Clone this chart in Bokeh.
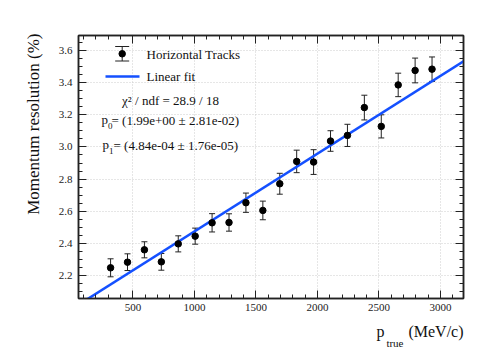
import math
from bokeh.plotting import figure
from bokeh.models import (Range1d, LinearAxis, FixedTicker, Whisker, TeeHead,
                          ColumnDataSource, Label, Title, NumeralTickFormatter,
                          CustomJSTickFormatter)
from bokeh.embed import file_html
from bokeh.resources import INLINE

# ---------------- data ----------------
p_true = [318.75, 456.25, 593.75, 731.25, 868.75, 1006.25, 1143.75, 1281.25,
          1418.75, 1556.25, 1693.75, 1831.25, 1968.75, 2106.25, 2243.75,
          2381.25, 2518.75, 2656.25, 2793.75, 2931.25]
resolution = [2.248, 2.283, 2.360, 2.285, 2.397, 2.445, 2.528, 2.530, 2.653,
              2.605, 2.771, 2.910, 2.906, 3.037, 3.072, 3.245, 3.128, 3.386,
              3.476, 3.484]
res_err = [0.056, 0.052, 0.050, 0.052, 0.050, 0.050, 0.057, 0.054, 0.060,
           0.058, 0.065, 0.070, 0.077, 0.064, 0.069, 0.077, 0.072, 0.073,
           0.077, 0.076]
fit_p0 = 1.99
fit_p1 = 4.84e-4
x_major = [500, 1000, 1500, 2000, 2500, 3000]
x_minor = [100 * i for i in range(1, 32)]
y_major = [2.2, 2.4, 2.6, 2.8, 3.0, 3.2, 3.4, 3.6]
y_minor = [round(2.1 + 0.05 * i, 2) for i in range(0, 32)]
legend_labels = ["Horizontal Tracks", "Linear fit"]
chi2_text = "χ² / ndf = 28.9 / 18"
p0_text = "= (1.99e+00 ± 2.81e-02)"
p1_text = "= (4.84e-04 ± 1.76e-05)"
y_title = "Momentum resolution (%)"
x_title_main = "p\u00a0\u00a0\u00a0\u00a0\u00a0\u00a0(MeV/c)"
x_title_sub = "true"

X0, X1 = 58.0, 3187.0
Y0, Y1 = 2.057, 3.6935

W, H = 488, 351
FL, FR, FT, FB = 78, 463, 35, 298   # frame edges in figure pixels


def px(ix, iy):
    """picture pixel -> data coordinates"""
    x = X0 + (ix - FL) / (FR - FL) * (X1 - X0)
    y = Y1 - (iy - FT) / (FB - FT) * (Y1 - Y0)
    return x, y


SERIF = "Liberation Serif"
INK = "#222222"

p = figure(width=W, height=H, output_backend="svg", toolbar_location=None,
           x_range=Range1d(X0, X1), y_range=Range1d(Y0, Y1),
           min_border_left=FL, min_border_right=W - FR,
           min_border_top=FT, min_border_bottom=H - FB,
           background_fill_color="white", border_fill_color="white")
p.outline_line_color = INK
p.outline_line_width = 1.5

xt = FixedTicker(ticks=x_major, minor_ticks=x_minor)
yt = FixedTicker(ticks=y_major, minor_ticks=y_minor)


def style_axis(ax, show_labels, standoff):
    ax.axis_line_color = INK
    ax.axis_line_width = 1.5
    ax.major_tick_line_color = INK
    ax.minor_tick_line_color = INK
    ax.major_tick_in = 8
    ax.major_tick_out = 0
    ax.minor_tick_in = 4
    ax.minor_tick_out = 0
    ax.axis_label = None
    ax.major_label_text_font = SERIF
    ax.major_label_text_color = INK
    ax.major_label_text_font_size = "11px"
    ax.major_label_standoff = standoff
    if not show_labels:
        ax.formatter = CustomJSTickFormatter(code="return ''")


p.xaxis.ticker = xt
p.yaxis.ticker = yt
style_axis(p.xaxis[0], True, 5)
style_axis(p.yaxis[0], True, 6)
p.yaxis[0].formatter = NumeralTickFormatter(format="0.0")
top_ax = LinearAxis(ticker=xt)
right_ax = LinearAxis(ticker=yt)
style_axis(top_ax, False, 0)
style_axis(right_ax, False, 0)
p.add_layout(top_ax, "above")
p.add_layout(right_ax, "right")

for g in (p.xgrid[0], p.ygrid[0]):
    g.grid_line_color = "#cccccc"
    g.grid_line_dash = "1 2"
    g.grid_line_width = 1
p.xgrid[0].ticker = FixedTicker(ticks=x_major)
p.ygrid[0].ticker = FixedTicker(ticks=y_major)

# ---------------- axis titles ----------------
p.add_layout(Title(text=y_title, align="right", offset=-2, standoff=25,
                   text_font=SERIF, text_font_size="17px",
                   text_font_style="normal", text_color="#111111"), "left")
p.add_layout(Title(text=x_title_main, align="right", offset=0, standoff=19,
                   vertical_align="top", text_font=SERIF,
                   text_font_size="16px", text_font_style="normal",
                   text_color="#111111"), "below")
p.add_layout(Title(text=x_title_sub, align="right", offset=60, standoff=-30,
                   vertical_align="top", text_font=SERIF,
                   text_font_size="11px", text_font_style="normal",
                   text_color="#111111"), "below")

# ---------------- fit line ----------------
fit_x = [X0, X1]
fit_y = [fit_p0 + fit_p1 * v for v in fit_x]
p.line(fit_x, fit_y, line_color="#1450ff", line_width=2.5)

# ---------------- data points ----------------
src = ColumnDataSource(dict(
    x=p_true, y=resolution,
    lo=[a - b for a, b in zip(resolution, res_err)],
    hi=[a + b for a, b in zip(resolution, res_err)]))
wh = Whisker(source=src, base="x", lower="lo", upper="hi", dimension="height",
             line_color=INK, line_width=1,
             upper_head=TeeHead(size=6, line_color=INK, line_width=1),
             lower_head=TeeHead(size=6, line_color=INK, line_width=1))
p.add_layout(wh)
p.scatter("x", "y", source=src, size=6.5, color="black")

# ---------------- legend ----------------
mx, my = px(121.7, 53.3)
_, mtop = px(121.7, 46)
_, mbot = px(121.7, 60.5)
lsrc = ColumnDataSource(dict(x=[mx], y=[my], lo=[mbot], hi=[mtop]))
p.add_layout(Whisker(source=lsrc, base="x", lower="lo", upper="hi",
                     dimension="height", line_color=INK, line_width=1,
                     upper_head=TeeHead(size=14, line_color=INK),
                     lower_head=TeeHead(size=14, line_color=INK)))
p.scatter("x", "y", source=lsrc, size=6.5, color="black")
lx0, ly = px(105, 76)
lx1, _ = px(139, 76)
p.line([lx0, lx1], [ly, ly], line_color="#1450ff", line_width=2.5)


def add_text(txt, ix, iy, size, align="left", baseline="middle"):
    x, y = px(ix, iy)
    p.add_layout(Label(x=x, y=y, text=txt, text_font=SERIF,
                       text_font_size=f"{size}px", text_color="#111111",
                       text_align=align, text_baseline=baseline))


add_text(legend_labels[0], 146, 53.5, 13)
add_text(legend_labels[1], 146, 76, 13)
add_text(chi2_text, 170, 100, 13, align="center")
add_text("p", 101, 119, 13)
add_text("0", 107.5, 125, 9)
add_text(p0_text, 111, 120, 13)
add_text("p", 102, 144, 13)
add_text("1", 108.5, 150, 9)
add_text(p1_text, 113, 145, 13)

open("out.html", "w").write(file_html(p, INLINE))
